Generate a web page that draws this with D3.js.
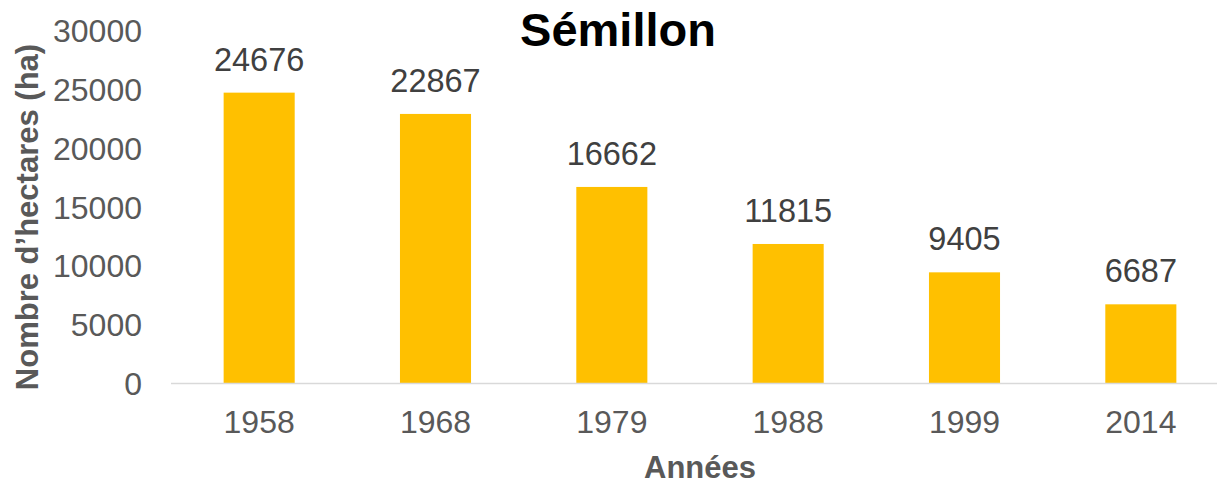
<!DOCTYPE html>
<html><head><meta charset="utf-8">
<script src="https://cdn.jsdelivr.net/npm/d3@7"></script>
<style>body{margin:0;background:#fff}svg{display:block;font-family:"Liberation Sans",Arial,sans-serif}</style>
</head><body>
<svg id="c" width="1217" height="485"></svg>
<script>
const years = ["1958","1968","1979","1988","1999","2014"];
const hectares = [24676,22867,16662,11815,9405,6687];
const yTicks = [0,5000,10000,15000,20000,25000,30000];
const title = "Sémillon";
const xTitle = "Années";
const yTitle = "Nombre d’hectares (ha)";

(function(){
const svg = d3.select("#c");
const mLeft = 171, mRight = 1229, mTop = 30, mBottom = 383;
const x = d3.scaleBand().domain(years).range([mLeft, mRight]).paddingInner(0.597).paddingOuter(0.2985);
const y = d3.scaleLinear().domain([0,30000]).range([mBottom, mTop]);

svg.selectAll("rect.bar").data(years).enter().append("rect")
  .attr("class","bar")
  .attr("x", d => x(d)).attr("width", x.bandwidth())
  .attr("y", (d,i) => y(hectares[i])).attr("height", (d,i) => y(0) - y(hectares[i]))
  .attr("fill", "#FFC000");

svg.append("line").attr("x1", mLeft).attr("x2", 1217).attr("y1", y(0)+0.5).attr("y2", y(0)+0.5)
  .attr("stroke", "#D9D9D9").attr("stroke-width", 1.5);

const ya = svg.append("g").attr("transform", `translate(142,0)`)
  .call(d3.axisLeft(y).tickValues(yTicks).tickSize(0).tickPadding(0).tickFormat(d3.format("d")));
ya.select(".domain").remove();
ya.selectAll("text").attr("font-size", 32).attr("fill", "#595959").attr("font-family", "Liberation Sans, Arial, sans-serif").attr("dy", "0.36em");

const xa = svg.append("g").attr("transform", `translate(0,${mBottom})`)
  .call(d3.axisBottom(x).tickSize(0).tickPadding(0));
xa.select(".domain").remove();
xa.selectAll("text").attr("font-size", 32).attr("fill", "#595959").attr("font-family", "Liberation Sans, Arial, sans-serif").attr("dy", null).attr("y", 50);

svg.selectAll("text.lbl").data(years).enter().append("text")
  .attr("class","lbl")
  .attr("x", d => x(d) + x.bandwidth()/2).attr("y", (d,i) => y(hectares[i]) - 22)
  .attr("text-anchor", "middle").attr("font-size", 32.5).attr("fill", "#404040")
  .text((d,i) => hectares[i]);

svg.append("text").attr("x", 618).attr("y", 46).attr("text-anchor", "middle")
  .attr("font-size", 47).attr("font-weight", "bold").attr("fill", "#000").text(title);

svg.append("text").attr("x", 700).attr("y", 478).attr("text-anchor", "middle")
  .attr("font-size", 31).attr("font-weight", "bold").attr("fill", "#595959").text(xTitle);
svg.append("text").attr("transform", "translate(38,217) rotate(-90)").attr("text-anchor", "middle")
  .attr("font-size", 31).attr("font-weight", "bold").attr("fill", "#595959").text(yTitle);
})();
</script>
</body></html>
